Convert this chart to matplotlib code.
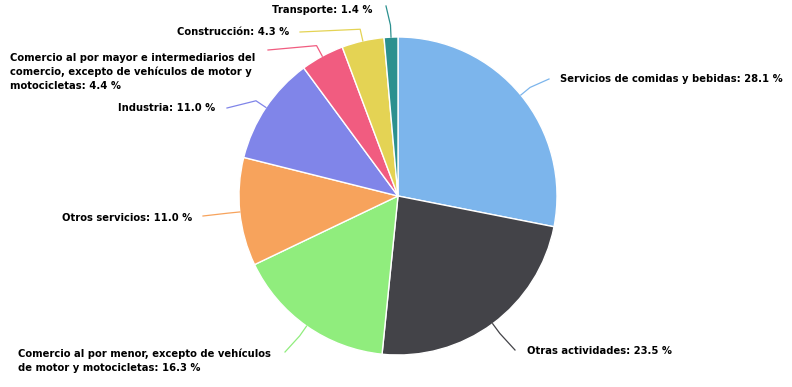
import matplotlib
matplotlib.use('Agg')
import matplotlib.pyplot as plt
import numpy as np

# Distribución por sector (%)
sectores = ['Servicios de comidas y bebidas', 'Otras actividades',
            'Comercio al por menor, excepto de vehículos\nde motor y motocicletas',
            'Otros servicios', 'Industria',
            'Comercio al por mayor e intermediarios del\ncomercio, excepto de vehículos de motor y\nmotocicletas',
            'Construcción', 'Transporte']
valores = [28.1, 23.5, 16.3, 11.0, 11.0, 4.4, 4.3, 1.4]
colores = ['#7cb5ec', '#434348', '#90ed7d', '#f7a35c', '#8085e9', '#f15c80', '#e4d354', '#2b908f']

# posiciones de etiquetas (px) y alineación
pos_etiq = [(560, 79, 'left'), (527, 351, 'left'), (18, 361, 'left'), (192, 218, 'right'),
            (215, 108, 'right'), (10, 72, 'left'), (289, 32, 'right'), (373, 10, 'right')]
anclas = [(549, 79), (515, 350), (285, 352), (203, 216), (227, 108), (268, 50), (300, 32), (386, 6)]

cx, cy, r = 398, 196, 159

fig = plt.figure(figsize=(7.92, 3.87), dpi=100)
ax = fig.add_axes([0, 0, 1, 1])

# eje y invertido: startangle=-90 es arriba y counterclock=True gira en sentido horario en pantalla
ax.pie(valores, colors=colores, startangle=-90, counterclock=True, center=(cx, cy), radius=r,
       wedgeprops=dict(edgecolor='white', linewidth=1), frame=True)
ax.set_xlim(0, 792)
ax.set_ylim(387, 0)
ax.set_aspect('equal')
ax.axis('off')

acum = 0
for i, v in enumerate(valores):
    mid = np.deg2rad((acum + v / 2) / 100 * 360)
    acum += v
    ex, ey = cx + r * np.sin(mid), cy - r * np.cos(mid)
    ox, oy = cx + (r + 12) * np.sin(mid), cy - (r + 12) * np.cos(mid)
    ax.plot([ex, ox, anclas[i][0]], [ey, oy, anclas[i][1]], color=colores[i], lw=0.9,
            solid_joinstyle='round')
    tx, ty, ha = pos_etiq[i]
    ax.text(tx, ty, f'{sectores[i]}: {v:.1f} %', ha=ha, va='center', fontsize=7.2,
            fontweight='bold', color='#000000', family='DejaVu Sans', linespacing=1.45)

fig.savefig('out.png', dpi=100)
